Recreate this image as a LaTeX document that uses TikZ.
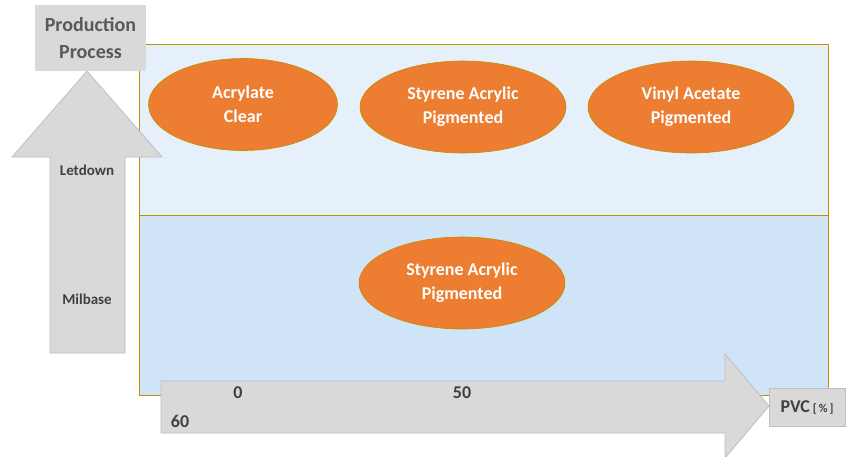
\documentclass[tikz,border=0pt]{standalone}
\usepackage{fontspec}
\setmainfont{Carlito}
\usetikzlibrary{shapes.geometric}
\definecolor{orangefill}{HTML}{ED7D31}
\definecolor{goldline}{HTML}{BF9000}
\definecolor{bandtop}{HTML}{E5F0FA}
\definecolor{bandbot}{HTML}{D0E4F7}
\definecolor{grayfill}{HTML}{D9D9D9}
\definecolor{grayline}{HTML}{BFBFBF}
\definecolor{darktext}{HTML}{404040}
\definecolor{midtext}{HTML}{595959}
\tikzset{
  ell/.style={ellipse, draw=goldline, line width=0.6pt, fill=orangefill, inner sep=0pt,
    minimum width=206pt, minimum height=92pt, text=white, align=center,
    font=\bfseries\fontsize{18}{24}\selectfont},
  band/.style={draw=goldline, line width=0.8pt},
  grayshape/.style={fill=grayfill, draw=grayline, line width=0.8pt},
  axislabel/.style={text=darktext, font=\bfseries\fontsize{18}{21}\selectfont, inner sep=0pt},
  sidelabel/.style={text=darktext, font=\bfseries\fontsize{15}{17}\selectfont, inner sep=0pt}
}
\begin{document}
\begin{tikzpicture}[x=1pt,y=-1pt]
\useasboundingbox (0,0) rectangle (856,456);
% bands
\draw[band, fill=bandtop] (139,44) rectangle (828,215);
\draw[band, fill=bandbot] (139,215) rectangle (828,395);
% ellipses
\node[ell, minimum width=189pt] (acr) at (243,104.5) {Acrylate\\Clear};
\node[ell] (sat) at (463,107) {Styrene Acrylic\\Pigmented};
\node[ell] (vap) at (691,107) {Vinyl Acetate\\Pigmented};
\node[ell] (sab) at (462,283) {Styrene Acrylic\\Pigmented};
% PVC arrow
\draw[grayshape] (161,381) -- (725,381) -- (725,354) -- (769,406) -- (725,458) -- (725,433) -- (161,433) -- cycle;
\node[axislabel] (l0) at (238,393) {0};
\node[axislabel] (l50) at (462,393) {50};
\node[axislabel] (l60) at (180,421) {60};
% PVC box
\node[grayshape, minimum width=76pt, minimum height=38pt, inner sep=0pt, text=darktext] (pvc) at (807,407)
  {\bfseries\fontsize{18}{21}\selectfont PVC\,{\fontsize{12}{14}\selectfont[\,\%\,]}};
% up arrow
\draw[grayshape] (50,353) -- (50,157) -- (12,157) -- (87,71) -- (162,157) -- (125,157) -- (125,353) -- cycle;
\node[sidelabel] (let) at (87,170) {Letdown};
\node[sidelabel] (mil) at (87,299) {Milbase};
% production box
\node[fill=grayfill, minimum width=111pt, minimum height=66pt, inner sep=0pt, text=midtext, align=center,
  font=\bfseries\fontsize{20}{27}\selectfont] (prod) at (90.5,38) {Production\\Process};
\end{tikzpicture}
\end{document}
